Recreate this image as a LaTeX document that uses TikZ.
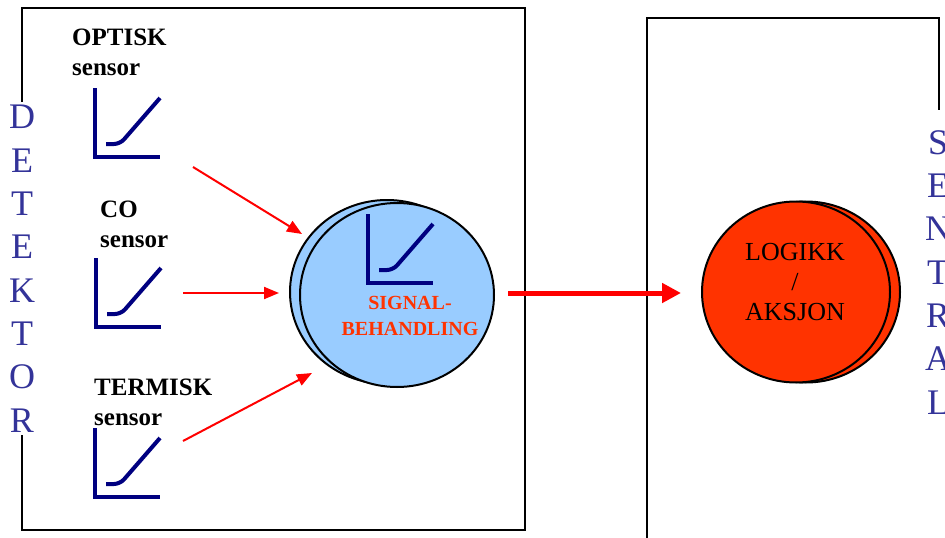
\documentclass[tikz,border=0pt]{standalone}
\usepackage{fontspec}
\setmainfont{Liberation Serif}
\usetikzlibrary{arrows.meta,shapes.geometric}
\definecolor{navy}{HTML}{000080}
\definecolor{detblue}{HTML}{333399}
\definecolor{lightblue}{HTML}{99CCFF}
\definecolor{orred}{HTML}{FF3300}
\begin{document}
\begin{tikzpicture}[x=1pt,y=-1pt,
  box/.style={draw=black,line width=1.5pt},
  bigletters/.style={font=\fontsize{36}{43.3}\selectfont,text=detblue,align=center,inner sep=3pt,fill=white},
  sensorlabel/.style={font=\fontsize{25}{30}\selectfont\bfseries,align=left,inner sep=0pt,anchor=base west},
  redarrow/.style={draw=red,line width=2pt,-{Triangle[length=15pt,width=12pt]}},
  bigarrow/.style={draw=red,line width=5pt,-{Triangle[length=19pt,width=19pt]}},
  disc/.style={ellipse,draw=black,line width=2pt,inner sep=0pt},
  icon/.style={draw=navy,line width=4pt},
  sensoricon/.pic={
    \draw[icon] (0,-69) -- (0,0) -- (65,0);
    \draw[icon,rounded corners=6pt] (11,-13) -- (25,-13) -- (65,-59);
  }
]
\useasboundingbox (0,0) rectangle (945,538);
% boxes
\draw[box] (22,8) rectangle (525,530);
\draw[box] (647,538) -- (647,18) -- (939,18) -- (939,110);
% vertical words (base = baseline of last letter)
\node[bigletters,anchor=base] (det) at (22,432) {D\\E\\T\\E\\K\\T\\O\\R};
\node[bigletters,anchor=base] (sen) at (938,414) {S\\E\\N\\T\\R\\A\\L};
% sensors
\node[sensorlabel] (optlab) at (72,75) {OPTISK\\sensor};
\pic at (95,157) {sensoricon};
\node[sensorlabel] (colab) at (100,247) {CO\\sensor};
\pic at (96,327) {sensoricon};
\node[sensorlabel] (termlab) at (94,425) {TERMISK\\sensor};
\pic at (95,497) {sensoricon};
% signal processing disc
\node[disc,fill=lightblue,minimum width=194pt,minimum height=184pt] (sigback) at (387,292) {};
\node[disc,fill=lightblue,minimum width=194pt,minimum height=184pt] (sig) at (397,295) {};
\pic at (368,283) {sensoricon};
\node[font=\fontsize{20}{26.5}\selectfont\bfseries,text=orred,align=center,inner sep=0pt] (sigtext) at (410,316) {SIGNAL-\\BEHANDLING};
% logic disc
\node[disc,fill=orred,minimum width=188pt,minimum height=181pt] (logback) at (806,292) {};
\node[disc,fill=orred,minimum width=188pt,minimum height=181pt] (logic) at (796,292) {};
\node[font=\fontsize{26}{30}\selectfont,align=center,inner sep=0pt] (logtext) at (795,282) {LOGIKK\\/\\AKSJON};
% arrows
\coordinate (a1s) at (193,167); \coordinate (a1e) at (302,234);
\coordinate (a2s) at (183,293); \coordinate (a2e) at (279,293);
\coordinate (a3s) at (183,441); \coordinate (a3e) at (312,373);
\draw[redarrow] (a1s) -- (a1e);
\draw[redarrow] (a2s) -- (a2e);
\draw[redarrow] (a3s) -- (a3e);
\coordinate (bs) at (508,293); \coordinate (be) at (681,293);
\draw[bigarrow] (bs) -- (be);
\end{tikzpicture}
\end{document}
